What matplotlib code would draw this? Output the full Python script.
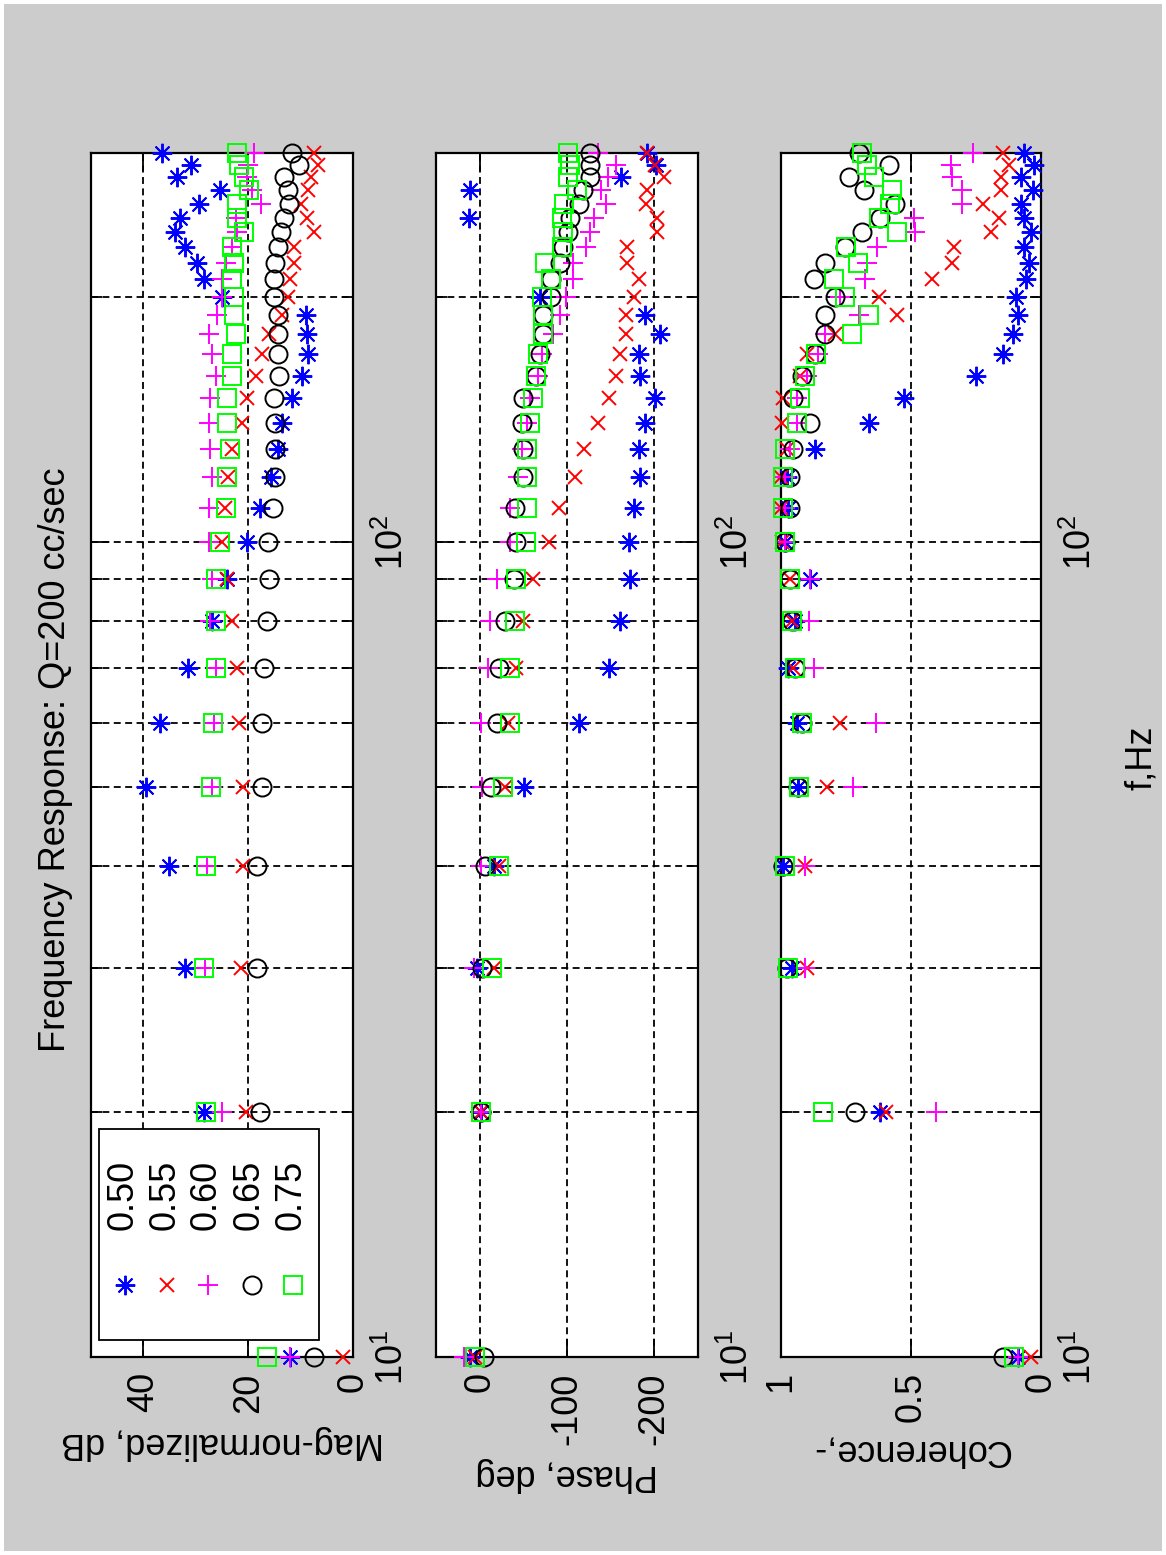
import numpy as np
import matplotlib
matplotlib.use("Agg")
import matplotlib.pyplot as plt
from matplotlib.ticker import LogLocator, NullFormatter, FixedLocator, FixedFormatter
from matplotlib.patches import Rectangle

# ---------------- data ----------------
freq = [10, 20, 30, 40, 50, 60, 70, 80, 90, 100, 110, 120, 130, 140, 150,
        160, 170, 180, 190, 200, 210, 220, 230, 240, 250, 260, 270, 280, 290, 300]
nan = np.nan

legend_labels = ['0.50', '0.55', '0.60', '0.65', '0.75']

mag_050 = [12.0, 28.4, 32.0, 35.1, 39.5, 36.8, 31.5, 26.9, 24.0, 20.3, 17.8, 15.7, 14.3, 13.5, 11.7,
           9.8, 8.5, 8.8, 9.0, 25.0, 28.5, 29.8, 32.0, 33.9, 33.0, 29.4, 25.3, 33.5, 31.0, 36.5]
mag_055 = [2.0, 20.5, 21.3, 20.9, 20.9, 21.8, 22.2, 23.0, 24.0, 25.0, 24.5, 23.8, 23.0, 21.1, 20.2,
           18.6, 17.3, 16.0, 13.5, 12.5, 12.0, 11.2, 11.2, 7.4, 8.7, 10.0, 8.5, 8.0, 6.6, 7.4]
mag_060 = [12.0, 25.0, 28.3, 27.8, 27.0, 26.6, 26.2, 27.2, 26.9, 27.5, 27.5, 26.9, 27.2, 27.5, 27.2,
           26.2, 26.9, 27.5, 25.9, 25.0, 25.0, 24.3, 23.0, 22.1, 22.4, 17.6, 19.2, 20.3, 20.0, 18.9]
mag_065 = [7.4, 17.8, 18.4, 18.3, 17.3, 17.3, 17.0, 16.5, 16.0, 16.2, 15.2, 14.8, 14.8, 14.8, 15.1,
           14.1, 14.4, 14.4, 14.4, 15.1, 15.1, 14.8, 14.4, 13.8, 13.2, 12.2, 12.5, 13.2, 10.3, 11.7]
mag_075 = [16.5, 28.0, 28.5, 28.0, 27.1, 26.7, 26.2, 26.2, 26.2, 25.3, 24.3, 24.0, 23.5, 24.0, 24.0,
           23.0, 23.0, 22.4, 22.7, 22.7, 23.0, 22.7, 23.0, 20.8, 22.1, 22.1, 19.9, 20.8, 21.8, 22.2]

ph_050 = [10.7, -1, 3, -16, -51, -114, -148, -161, -172, -171, -177, -184, -182, -189, -201,
          -184, -182, -206, -189, -69, nan, nan, nan, nan, 12.5, nan, 10.7, -162, -202, -192]
ph_055 = [5, -1, -16, -22, -29, -33, -42, -50, -61, -79, -91, -109, -120, -135, -148,
          -156, -161, -167, -167, -177, -182, -169, -169, -203, -203, -190, -192, -211, -201, -192]
ph_060 = [18, -1, 7, -1, -3, -1, -10, -12, -20, -35, -35, -44, -48, -54, -58,
          -67, -71, -84, -92, -99, -107, -107, -122, -126, -131, -145, -139, -147, -156, -135]
ph_065 = [-4.5, -1, -3, -6, -13, -20, -22, -29, -39, -42, -40, -50, -50, -48, -50,
          -65, -69, -73, -73, -82, -82, -92, -95, -101, -103, -114, -118, -126, -126, -126]
ph_075 = [5, -1, -14, -22, -27, -35, -35, -40, -42, -53, -54, -54, -54, -58, -61,
          -65, -67, -73, -73, -71, -82, -75, -94, -95, -94, -97, -112, -101, -103, -101]

coh_050 = [0.09, 0.618, 0.959, 0.991, 0.933, 0.94, 0.972, 0.946, 0.888, 0.985, 0.972, 0.978, 0.869, 0.663, 0.528,
           0.251, 0.148, 0.109, 0.09, 0.097, 0.058, 0.045, 0.064, 0.039, 0.064, 0.077, 0.032, 0.077, 0.026, 0.064]
coh_055 = [0.039, 0.598, 0.9, 0.907, 0.824, 0.772, 0.952, 0.959, 0.965, 0.997, 1.0, 1.0, 0.978, 0.997, 0.991,
           0.927, 0.9, 0.792, 0.553, 0.624, 0.418, 0.341, 0.335, 0.193, 0.161, 0.225, 0.154, 0.154, 0.122, 0.148]
coh_060 = [0.09, 0.403, 0.907, 0.907, 0.723, 0.633, 0.875, 0.894, 0.888, 0.985, 0.985, 0.985, 0.965, 0.94, 0.94,
           0.9, 0.856, 0.83, 0.701, 0.772, 0.676, 0.669, 0.631, 0.483, 0.489, 0.302, 0.302, 0.341, 0.347, 0.26]
coh_065 = [0.148, 0.714, 0.978, 0.991, 0.933, 0.92, 0.946, 0.959, 0.965, 0.985, 0.965, 0.965, 0.952, 0.888, 0.952,
           0.92, 0.869, 0.83, 0.83, 0.792, 0.875, 0.83, 0.753, 0.688, 0.618, 0.56, 0.682, 0.74, 0.586, 0.701]
coh_075 = [0.103, 0.84, 0.972, 0.985, 0.929, 0.92, 0.946, 0.959, 0.965, 0.985, 0.991, 0.991, 0.985, 0.94, 0.927,
           0.907, 0.865, 0.727, 0.663, 0.753, 0.798, 0.705, 0.749, 0.553, 0.624, 0.579, 0.573, 0.644, 0.669, 0.688]

mag_ticks = [0, 20, 40]
mag_ticklabels = ['0', '20', '40']
ph_ticks = [-200, -100, 0]
ph_ticklabels = ['-200', '-100', '0']
coh_ticks = [0, 0.5, 1]
coh_ticklabels = ['0', '0.5', '1']
freq_ticks = [10, 100]
freq_ticklabels = [r'$\mathregular{10^{1}}$', r'$\mathregular{10^{2}}$']

title_text = 'Frequency Response: Q=200 cc/sec'
ylabels = ['Mag-normalized, dB', 'Phase, deg', 'Coherence,-']
xlabel_text = 'f,Hz'

# ---------------- style ----------------
plt.rcParams['font.family'] = ['Liberation Sans', 'DejaVu Sans']
plt.rcParams['axes.unicode_minus'] = False
plt.rcParams['lines.scale_dashes'] = False
FS = 26

colors = ['#0000ff', '#ff0000', '#ff00ff', '#000000', '#00ff00']
markers = [(8, 2, 0), 'x', '+', 'o', 's']
msizes = [14, 10.5, 14.5, 13, 13]

W, H = 1166, 1555
fig = plt.figure(figsize=(W / 100, H / 100), dpi=100, facecolor='white')
fig.patches.append(Rectangle((4 / W, 4 / H), (W - 8) / W, (H - 8) / H, transform=fig.transFigure,
                             facecolor='#cccccc', edgecolor='none', zorder=-10))

bottom = (H - 1357) / H
height = 1204 / H
lefts = [91, 436, 781]
widths = [262, 262, 260]

series = [
    [mag_050, mag_055, mag_060, mag_065, mag_075],
    [ph_050, ph_055, ph_060, ph_065, ph_075],
    [coh_050, coh_055, coh_060, coh_065, coh_075],
]
xlims = [(50, 0), (50, -250), (1, 0)]
ticks = [mag_ticks, ph_ticks, coh_ticks]
ticklabels = [mag_ticklabels, ph_ticklabels, coh_ticklabels]
ylab_pos = [-0.0714, -0.098, -0.077]

grid_ls = (0, (5, 3.2))
axes = []
for k in range(3):
    ax = fig.add_axes([lefts[k] / W, bottom, widths[k] / W, height])
    axes.append(ax)
    ax.set_facecolor('white')
    for c, m, ms, vals in zip(colors, markers, msizes, series[k]):
        ax.plot(vals, freq, linestyle='none', marker=m, color=c, mfc='none',
                ms=ms, mew=1.4, clip_on=False, zorder=3)
    ax.set_yscale('log')
    ax.set_ylim(10, 300)
    ax.set_xlim(*xlims[k])
    ax.set_axisbelow(True)

    ax.xaxis.set_major_locator(FixedLocator(ticks[k]))
    ax.xaxis.set_major_formatter(FixedFormatter(ticklabels[k]))
    ax.yaxis.set_major_locator(FixedLocator(freq_ticks))
    ax.yaxis.set_major_formatter(FixedFormatter(freq_ticklabels))
    ax.yaxis.set_minor_locator(LogLocator(base=10, subs=np.arange(2, 10), numticks=20))
    ax.yaxis.set_minor_formatter(NullFormatter())

    ax.tick_params(axis='x', which='both', direction='in', top=True, bottom=True,
                   length=13, width=1.3, labelsize=FS, pad=11, labelrotation=90)
    ax.tick_params(axis='y', which='major', direction='in', left=True, right=True,
                   labelleft=False, labelright=True, length=13, width=1.3,
                   labelsize=FS, pad=16, labelrotation=90)
    ax.tick_params(axis='y', which='minor', direction='in', left=True, right=True,
                   length=8, width=1.3)
    for lab in ax.get_yticklabels():
        lab.set_verticalalignment('center')

    ax.grid(True, axis='x', which='major', color='black', linestyle=grid_ls, linewidth=1.3)
    ax.grid(True, axis='y', which='both', color='black', linestyle=grid_ls, linewidth=1.3)
    for sp in ax.spines.values():
        sp.set_linewidth(1.6)
        sp.set_color('black')

    ax.text(0.5, ylab_pos[k], ylabels[k], rotation=180, ha='center', va='center',
            fontsize=FS, transform=ax.transAxes)

ax1, ax2, ax3 = axes
ax1.text(-0.137, 0.496, title_text, rotation=90, ha='center', va='center',
         fontsize=FS, transform=ax1.transAxes)
ax3.text(1.385, 0.4975, xlabel_text, rotation=90, ha='center', va='center',
         fontsize=FS, transform=ax3.transAxes)

# ---------------- legend (rotated, drawn in axes fraction) ----------------
ax1.add_patch(Rectangle((0.032, 0.014), 0.838, 0.175, transform=ax1.transAxes,
                        facecolor='white', edgecolor='black', linewidth=1.3,
                        zorder=10, clip_on=False))
leg_x = [0.130, 0.291, 0.448, 0.613, 0.772]
for xi, c, m, ms, lab in zip(leg_x, colors, markers, msizes, legend_labels):
    ax1.plot([xi], [0.0598], transform=ax1.transAxes, linestyle='none', marker=m,
             color=c, mfc='none', ms=ms, mew=1.4, zorder=11, clip_on=False)
    ax1.text(xi - 0.008, 0.1346, lab, rotation=90, ha='center', va='center',
             fontsize=FS, transform=ax1.transAxes, zorder=11)

fig.savefig('out.png', dpi=100, facecolor=fig.get_facecolor())
